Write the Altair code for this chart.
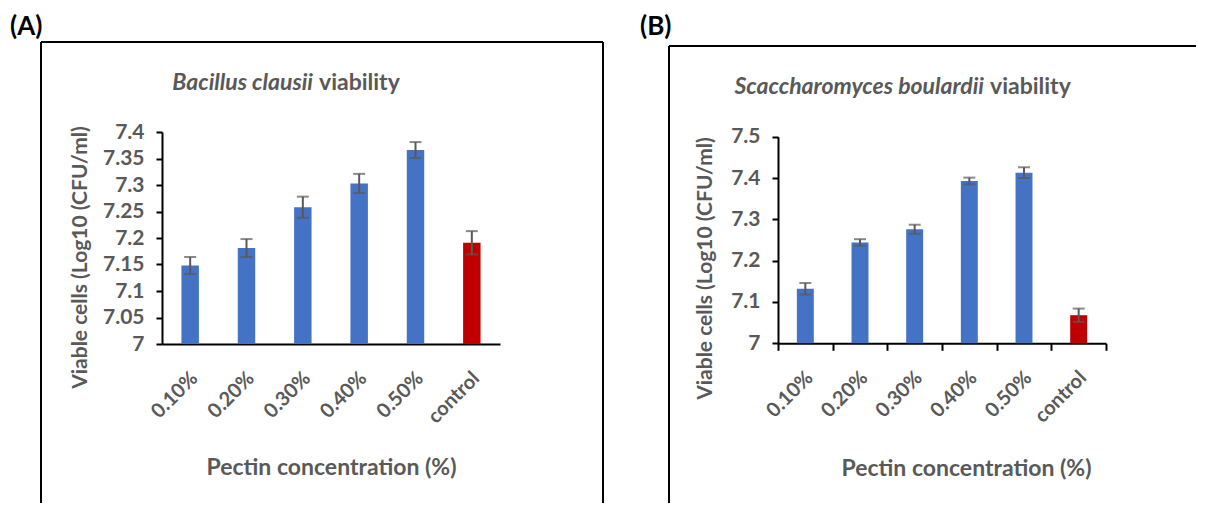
import altair as alt
import pandas as pd

categories = ["0.10%", "0.20%", "0.30%", "0.40%", "0.50%", "control"]
groups = ["pectin", "pectin", "pectin", "pectin", "pectin", "control"]
a_values = [7.148, 7.181, 7.258, 7.303, 7.366, 7.191]
a_errors = [0.016, 0.017, 0.020, 0.018, 0.015, 0.022]
b_values = [7.132, 7.244, 7.276, 7.393, 7.413, 7.068]
b_errors = [0.014, 0.008, 0.011, 0.008, 0.013, 0.016]
a_yticks = [7, 7.05, 7.1, 7.15, 7.2, 7.25, 7.3, 7.35, 7.4]
b_yticks = [7, 7.1, 7.2, 7.3, 7.4, 7.5]

FONT = "Lato"
GREY = "#595959"
one = pd.DataFrame({"k": [0]})


def rule(x, y, x2=None, y2=None, opacity=1, width=2):
    enc = dict(x=alt.value(x), y=alt.value(y))
    if x2 is not None:
        enc["x2"] = alt.value(x2)
    if y2 is not None:
        enc["y2"] = alt.value(y2)
    return alt.Chart(one).mark_rule(color="black", strokeWidth=width,
                                    strokeOpacity=opacity).encode(**enc)


def text(t, x, y, size, align="left", style="normal", color=GREY):
    return alt.Chart(one).mark_text(
        text=t, font=FONT, fontSize=size, fontWeight="bold", fontStyle=style,
        color=color, align=align, baseline="middle"
    ).encode(x=alt.value(x), y=alt.value(y))


def panel(values, errors, yticks, ydomain, W, H, top, L):
    df = pd.DataFrame({
        "cat": categories,
        "grp": groups,
        "value": values,
        "lo": [v - e for v, e in zip(values, errors)],
        "hi": [v + e for v, e in zip(values, errors)],
    })
    yscale = alt.Scale(domain=ydomain, zero=False, nice=False, range=[H, top])
    xaxis = alt.Axis(
        title="Pectin concentration (%)", titleFont=FONT, titleFontSize=23,
        titleFontWeight="bold", titleColor=GREY, titleX=L["xtx"], titleY=L["xty"],
        titleAlign="center", titleBaseline="middle", titleAnchor="start",
        labelFont=FONT, labelFontSize=20, labelFontWeight="bold", labelColor=GREY,
        labelAngle=-45, labelAlign="right", labelBaseline="middle",
        labelPadding=L["lp"], labelOffset=4,
        ticks=L["xticks"], tickSize=L["xts"], tickBand="extent", tickColor="black", tickWidth=2,
        domainColor="black", domainWidth=2, grid=False,
    )
    yaxis = alt.Axis(
        values=yticks, format="~g",
        title="Viable cells (Log10 (CFU/ml)", titleFont=FONT, titleFontSize=21,
        titleFontWeight="bold", titleColor=GREY, titleX=L["ytx"], titleY=L["yty"],
        titleAngle=-90, titleAlign="center", titleBaseline="middle",
        labelFont=FONT, labelFontSize=21, labelFontWeight="bold", labelColor=GREY,
        labelPadding=12, tickSize=6, tickColor="black", tickWidth=2,
        domainColor="black", domainWidth=2, grid=False,
    )
    base = alt.Chart(df).encode(
        x=alt.X("cat:N", sort=categories,
                scale=alt.Scale(paddingInner=0, paddingOuter=0), axis=xaxis)
    )
    bars = base.mark_bar(width=alt.RelativeBandSize(0.31)).encode(
        y=alt.Y("value:Q", scale=yscale, axis=yaxis),
        y2=alt.datum(ydomain[0]),
        color=alt.Color("grp:N", scale=alt.Scale(domain=["pectin", "control"],
                                                 range=["#4472C4", "#C00000"]), legend=None),
    )
    stem = base.mark_rule(color=GREY, strokeWidth=2).encode(
        y=alt.Y("lo:Q", scale=yscale, axis=yaxis), y2="hi:Q")
    cap_lo = base.mark_tick(color=GREY, thickness=2, size=12).encode(
        y=alt.Y("lo:Q", scale=yscale, axis=yaxis))
    cap_hi = base.mark_tick(color=GREY, thickness=2, size=12).encode(
        y=alt.Y("hi:Q", scale=yscale, axis=yaxis))

    deco = [
        rule(L["ax"], L["ay"], x2=L["ax"] + 4, opacity=0, width=1),
        text(L["label"], L["lx"], L["ly"], 26, color="black"),
        text(L["species"], L["tx"], L["ty"], 23, align="right", style="italic"),
        text("viability", L["tx"] + 6, L["ty"], 23),
    ]
    for r in L["rules"]:
        deco.append(rule(**r))
    return alt.layer(bars, stem, cap_lo, cap_hi, *deco).properties(width=W, height=H)


LA = dict(label="(A)", lx=-152, ly=-105, species="Bacillus clausii", tx=151, ty=-49,
          ax=-154, ay=-123.5,
          xtx=169, xty=123, lp=31, xticks=False, xts=0, ytx=-82, yty=125,
          rules=[dict(x=-121, x2=441, y=-90), dict(x=-121, y=-90, y2=371),
                 dict(x=441, y=-90, y2=371)])
LB = dict(label="(B)", lx=-138, ly=-105, species="Scaccharomyces boulardii", tx=206, ty=-45,
          ax=-138, ay=-123.5,
          xtx=188, xty=125, lp=24, xticks=True, xts=7, ytx=-73, yty=136,
          rules=[dict(x=-109, x2=418, y=-86), dict(x=-109, y=-86, y2=371)])

pa = panel(a_values, a_errors, a_yticks, [7, 7.4], 338, 212, 0, LA)
pb = panel(b_values, b_errors, b_yticks, [7, 7.5], 328, 211.3, 4.7, LB)

chart = alt.hconcat(pa, pb, spacing=36).properties(
    padding={"left": 0, "top": 0, "right": 0, "bottom": 0}
).configure_view(stroke=None)

chart.save("out.html", embed_options={"renderer": "svg", "actions": False})
